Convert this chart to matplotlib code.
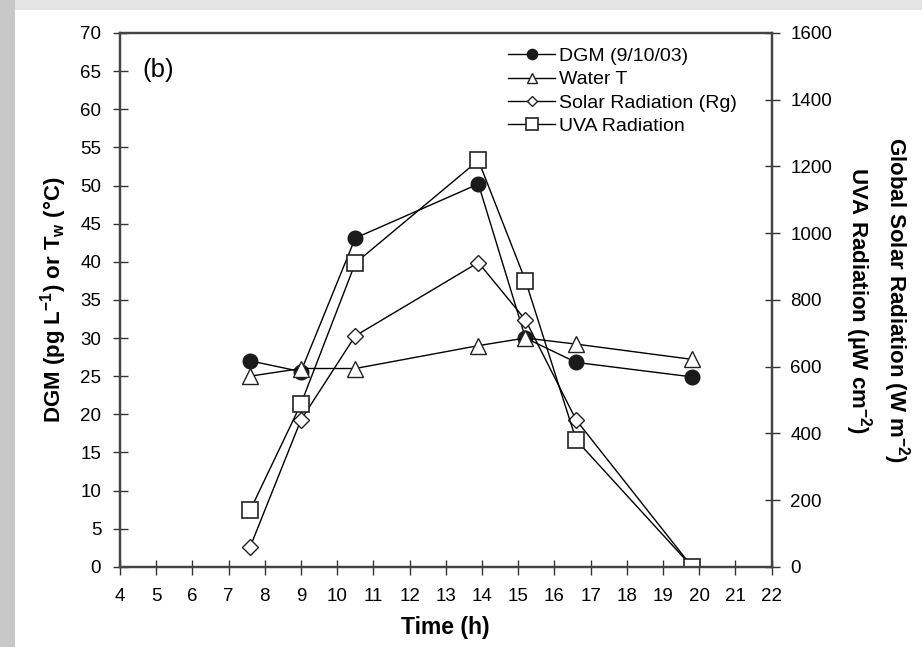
import matplotlib.pyplot as plt
from matplotlib.patches import Rectangle

plt.rcParams['font.family'] = ['Liberation Sans', 'DejaVu Sans']
plt.rcParams['mathtext.fontset'] = 'custom'
plt.rcParams['mathtext.rm'] = 'Liberation Sans:bold'
plt.rcParams['mathtext.it'] = 'Liberation Sans:bold'
plt.rcParams['mathtext.bf'] = 'Liberation Sans:bold'

# sampling times (h)
time_h = [7.6, 9.0, 10.5, 13.9, 15.2, 16.6, 19.8]

# left axis: DGM (pg/L) and water temperature (C)
dgm = [27.0, 25.6, 43.1, 50.2, 30.0, 26.8, 24.9]
water_t = [25.0, 26.0, 26.0, 29.0, 30.0, 29.2, 27.2]

# right axis: solar radiation (W/m2) and UVA (uW/cm2)
solar_rg = [60, 440, 692, 912, 740, 440, 0]
uva = [170, 488, 910, 1218, 858, 380, 0]

x_ticks = list(range(4, 23))
y_ticks = list(range(0, 71, 5))
y2_ticks = list(range(0, 1601, 200))

fig = plt.figure(figsize=(9.22, 6.47), dpi=100)
fig.patch.set_facecolor('white')
# grey frame of the screenshot
fig.patches.append(Rectangle((0, 0.985), 1, 0.015, transform=fig.transFigure,
                             facecolor='#e4e4e4', edgecolor='none', zorder=0))
fig.patches.append(Rectangle((0, 0), 0.016, 1, transform=fig.transFigure,
                             facecolor='#c8c8c8', edgecolor='none', zorder=0))

ax = fig.add_axes([0.130, 0.124, 0.707, 0.825])
ax2 = ax.twinx()

ax.plot(time_h, dgm, color='black', lw=1, marker='o', ms=10.5,
        mfc='#1a1a1a', mec='#1a1a1a', label='DGM (9/10/03)')
ax.plot(time_h, water_t, color='black', lw=1, marker='^', ms=11,
        mfc='white', mec='#222222', mew=1, label='Water T')
ax2.plot(time_h, solar_rg, color='black', lw=1, marker='D', ms=8,
         mfc='white', mec='#222222', mew=1, label='Solar Radiation (Rg)')
ax2.plot(time_h, uva, color='black', lw=1, marker='s', ms=12,
         mfc='white', mec='#222222', mew=1.2, label='UVA Radiation')

ax.set_xlim(4, 22)
ax.set_ylim(0, 70)
ax2.set_ylim(0, 1600)
ax.set_xticks(x_ticks)
ax.set_yticks(y_ticks)
ax2.set_yticks(y2_ticks)

for a in (ax, ax2):
    for s in a.spines.values():
        s.set_color('#444444')
        s.set_linewidth(1.6)
ax.tick_params(axis='x', direction='inout', length=10.8, width=1,
               labelsize=13.5, color='#333333', pad=10)
ax.tick_params(axis='y', direction='inout', length=10.8, width=1,
               labelsize=13.5, color='#333333', pad=8)
ax2.tick_params(axis='y', direction='inout', length=10.8, width=1,
                labelsize=13.5, color='#333333', pad=8)

ax.set_xlabel('Time (h)', fontsize=16.5, fontweight='bold', labelpad=8)
ax.set_ylabel(r'DGM (pg L$^{-1}$) or T$_{w}$ (°C)', fontsize=16,
              fontweight='bold', labelpad=8)

# two right-hand axis titles, read top to bottom
fig.text(0.9718, 0.536, 'Global Solar Radiation (W m$^{-2}$)', rotation=270,
         ha='center', va='center', fontsize=16, fontweight='bold')
fig.text(0.9306, 0.536, 'UVA Radiation (µW cm$^{-2}$)', rotation=270,
         ha='center', va='center', fontsize=16, fontweight='bold')

ax.text(0.035, 0.93, '(b)', transform=ax.transAxes, fontsize=18.5, va='center')

h1, l1 = ax.get_legend_handles_labels()
h2, l2 = ax2.get_legend_handles_labels()
ax2.legend(h1 + h2, l1 + l2, loc='upper left', bbox_to_anchor=(0.578, 0.995),
           frameon=False, fontsize=14, handlelength=2.4, handletextpad=0.2,
           labelspacing=0.3, markerscale=0.7, borderaxespad=0.2)

fig.savefig('out.png', dpi=100)
